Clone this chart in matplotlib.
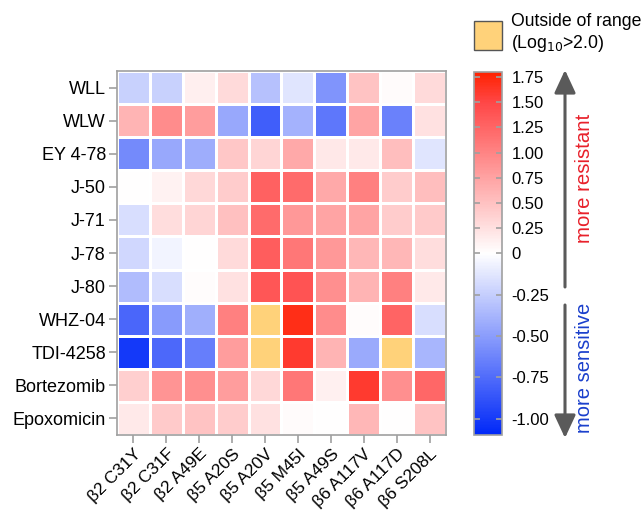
import numpy as np
import matplotlib
matplotlib.use("Agg")
import matplotlib.pyplot as plt
from matplotlib.colors import LinearSegmentedColormap, TwoSlopeNorm
from matplotlib.patches import Rectangle, FancyArrowPatch

plt.rcParams['font.family'] = ['Liberation Sans', 'DejaVu Sans']

compounds = ["WLL", "WLW", "EY 4-78", "J-50", "J-71", "J-78", "J-80",
             "WHZ-04", "TDI-4258", "Bortezomib", "Epoxomicin"]
mutants = ["β2 C31Y", "β2 C31F", "β2 A49E", "β5 A20S", "β5 A20V",
           "β5 M45I", "β5 A49S", "β6 A117V", "β6 A117D", "β6 S208L"]
nan = np.nan
# log10 fold-change values (NaN = outside of range, Log10 > 2.0)
row_wll = [-0.24, -0.24, 0.14, 0.30, -0.31, -0.13, -0.55, 0.48, 0.03, 0.30]
row_wlw = [0.61, 0.93, 0.80, -0.44, -0.82, -0.39, -0.69, 0.74, -0.64, 0.25]
row_ey = [-0.60, -0.44, -0.42, 0.45, 0.35, 0.69, 0.19, 0.17, 0.53, -0.13]
row_j50 = [0.00, 0.10, 0.32, 0.41, 1.29, 1.20, 0.69, 1.03, 0.41, 0.53]
row_j71 = [-0.17, 0.28, 0.35, 0.51, 1.20, 0.84, 0.74, 0.74, 0.41, 0.43]
row_j78 = [-0.20, -0.06, 0.00, 0.30, 1.32, 1.10, 0.84, 0.58, 0.58, 0.27]
row_j80 = [-0.34, -0.17, 0.02, 0.25, 1.37, 1.40, 0.90, 0.61, 1.03, 0.17]
row_whz = [-0.78, -0.51, -0.41, 1.03, nan, 1.70, 0.93, 0.02, 1.26, -0.17]
row_tdi = [-1.01, -0.77, -0.66, 0.80, nan, 1.60, 0.61, -0.43, nan, -0.37]
row_btz = [0.38, 0.87, 0.90, 0.79, 0.32, 1.10, 0.12, 1.59, 0.90, 1.23]
row_epx = [0.17, 0.43, 0.48, 0.41, 0.25, 0.03, 0.00, 0.58, 0.00, 0.48]
cbar_ticks = [-1.0, -0.75, -0.5, -0.25, 0, 0.25, 0.5, 0.75, 1.0, 1.25, 1.5, 1.75]

data = np.array([row_wll, row_wlw, row_ey, row_j50, row_j71, row_j78,
                 row_j80, row_whz, row_tdi, row_btz, row_epx])

vmin, vmax = -1.1, 1.8
cmap = LinearSegmentedColormap.from_list(
    "bwr2", [(0.0, "#0028F8"), (0.5, "#FFFFFF"),
             (0.5 + 0.5 * 1.5 / vmax, "#FF4747"), (1.0, "#FF2200")])
cmap.set_bad("#FFD27A")
norm = TwoSlopeNorm(vmin=vmin, vcenter=0.0, vmax=vmax)

fig = plt.figure(figsize=(6.44, 5.13), dpi=100)
ax = fig.add_axes([0.1817, 0.152, 0.5108, 0.7096])
mesh = ax.pcolormesh(np.ma.masked_invalid(data), cmap=cmap, norm=norm,
                     edgecolors="white", linewidth=0.8)
ax.set_xlim(0, len(mutants))
ax.set_ylim(len(compounds), 0)
ax.set_xticks(np.arange(len(mutants)) + 0.5)
ax.set_yticks(np.arange(len(compounds)) + 0.5)
ax.set_xticklabels(mutants, rotation=45, ha="right", rotation_mode="anchor",
                   fontsize=12.5)
ax.set_yticklabels(compounds, fontsize=13)
for s in ax.spines.values():
    s.set_color("#A0A0A0")
    s.set_linewidth(1.2)
ax.tick_params(axis="both", color="#A0A0A0", length=5.5, width=1.2, pad=2.5)

# colorbar
cax = fig.add_axes([0.736, 0.152, 0.0435, 0.708])
cb = fig.colorbar(mesh, cax=cax, ticks=cbar_ticks)
cb.outline.set_edgecolor("#A0A0A0")
cb.outline.set_linewidth(1.2)
cb.ax.set_yticklabels(["0" if t == 0 else f"{t:.2f}" for t in cbar_ticks],
                      fontsize=12)
cax.tick_params(axis="y", direction="in", length=4, width=1.2,
                color="#A0A0A0", left=True, right=True, pad=7)

# legend for out of range
fig.patches.append(Rectangle((474 / 644, 1 - 50 / 513), 28 / 644, 29 / 513,
                             transform=fig.transFigure, facecolor="#FFD27A",
                             edgecolor="#555555", linewidth=1.0))
fig.text(511 / 644, 1 - 22 / 513, "Outside of range", fontsize=12.7,
         va="center", ha="left")
fig.text(511 / 644, 1 - 44 / 513, "(Log$_{10}$>2.0)", fontsize=12.7,
         va="center", ha="left")

# arrows
arrow_col = "#5A5A5A"
style = "-|>,head_length=14,head_width=6.5"
fig.patches.append(FancyArrowPatch((565 / 644, 1 - 287 / 513),
                                   (565 / 644, 1 - 70 / 513),
                                   transform=fig.transFigure,
                                   arrowstyle=style, color=arrow_col,
                                   linewidth=2.2, mutation_scale=1,
                                   shrinkA=0, shrinkB=0))
fig.patches.append(FancyArrowPatch((565 / 644, 1 - 305 / 513),
                                   (565 / 644, 1 - 438 / 513),
                                   transform=fig.transFigure,
                                   arrowstyle=style, color=arrow_col,
                                   linewidth=2.2, mutation_scale=1,
                                   shrinkA=0, shrinkB=0))
fig.text(584 / 644, 1 - 178 / 513, "more resistant", rotation=90,
         color="#E8202A", fontsize=14.7, ha="center", va="center")
fig.text(584 / 644, 1 - 368 / 513, "more sensitive", rotation=90,
         color="#1A3FCC", fontsize=14.5, ha="center", va="center")

fig.savefig("out.png", dpi=100)
